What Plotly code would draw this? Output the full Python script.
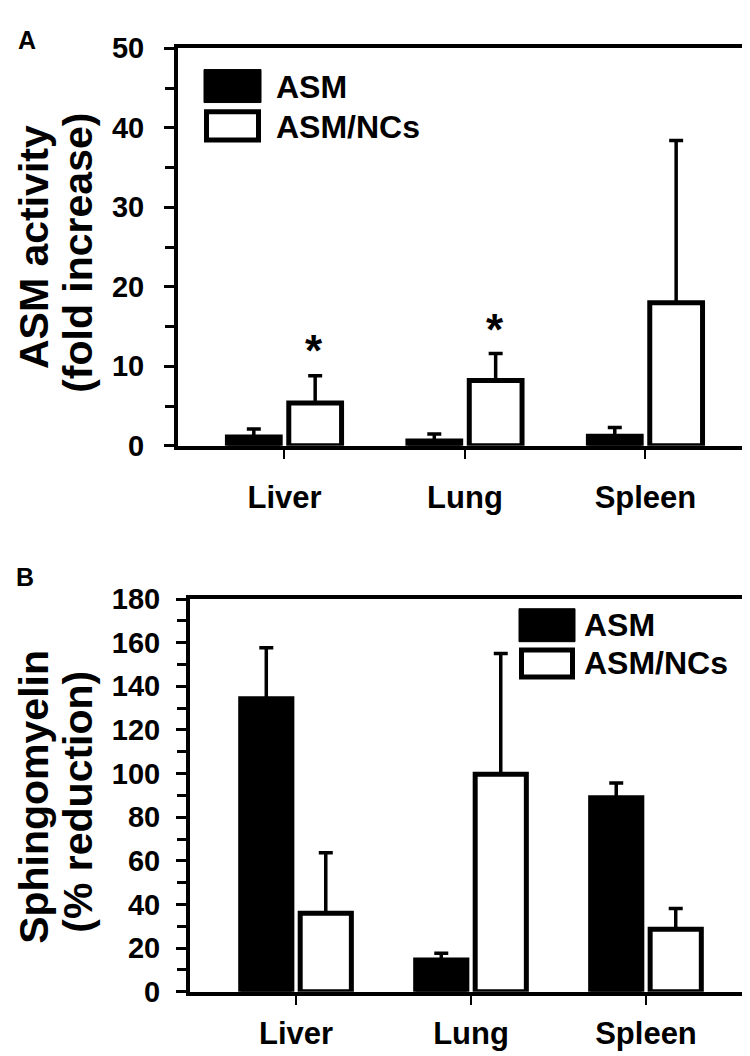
import plotly.graph_objects as go

# ---------------- data ----------------
categories = ["Liver", "Lung", "Spleen"]

# Panel A: ASM activity (fold increase)
a_asm_mean = [1.1, 0.6, 1.2]
a_asm_err = [1.0, 0.9, 1.1]
a_nc_mean = [5.4, 8.2, 18.0]
a_nc_err = [3.4, 3.4, 20.4]
a_star_cats = ["Liver", "Lung"]
a_star_y = [12.0, 14.6]

# Panel B: Sphingomyelin (% reduction)
b_asm_mean = [134.3, 14.5, 88.9]
b_asm_err = [23.4, 3.2, 6.8]
b_nc_mean = [36.0, 99.7, 28.7]
b_nc_err = [27.7, 55.3, 9.5]

a_yticks = [0, 10, 20, 30, 40, 50]
b_yticks = [0, 20, 40, 60, 80, 100, 120, 140, 160, 180]

series_names = ["ASM", "ASM/NCs"]

# ---------------- helpers ----------------
W, H = 750, 1056
FONT = "Liberation Sans, Arial, sans-serif"


def px(x):
    return x / W


def py(y):
    return 1 - y / H


fig = go.Figure()


def add_bars(xa, ya, asm_m, asm_e, nc_m, nc_e):
    fig.add_trace(go.Bar(
        x=categories, y=asm_m, name=series_names[0], xaxis=xa, yaxis=ya,
        marker=dict(color="black", line=dict(color="black", width=5)),
        error_y=dict(type="data", array=asm_e, arrayminus=[0] * len(asm_e),
                     symmetric=False, color="black", thickness=3.5, width=7),
        showlegend=False, offsetgroup="1"))
    fig.add_trace(go.Bar(
        x=categories, y=nc_m, name=series_names[1], xaxis=xa, yaxis=ya,
        marker=dict(color="white", line=dict(color="black", width=5)),
        error_y=dict(type="data", array=nc_e, arrayminus=[0] * len(nc_e),
                     symmetric=False, color="black", thickness=3.5, width=7),
        showlegend=False, offsetgroup="2"))


add_bars("x", "y", a_asm_mean, a_asm_err, a_nc_mean, a_nc_err)
add_bars("x2", "y2", b_asm_mean, b_asm_err, b_nc_mean, b_nc_err)

common_x = dict(
    type="category", categoryorder="array", categoryarray=categories,
    showline=True, linewidth=4, linecolor="black", mirror=True,
    ticks="outside", ticklen=9, tickwidth=2, tickcolor="black",
    tickfont=dict(family=FONT, size=31, color="black", weight="bold"),
    showgrid=False, zeroline=False,
)
common_y = dict(
    showline=True, linewidth=4, linecolor="black", mirror=True,
    ticks="outside", ticklen=10, tickwidth=3, tickcolor="black",
    tickfont=dict(family=FONT, size=29, color="black", weight="bold"),
    showgrid=False, zeroline=False,
)

fig.update_layout(
    width=W, height=H,
    margin=dict(l=0, r=0, t=0, b=0),
    paper_bgcolor="white", plot_bgcolor="white",
    barmode="group", bargap=0.32, bargroupgap=0.14,
    xaxis=dict(common_x, domain=[px(170), px(738)], range=[-0.59, 2.557],
               anchor="y", ticklabelstandoff=12),
    yaxis=dict(common_y, domain=[py(435), py(25)], range=[0, 50],
               tickvals=a_yticks, anchor="x",
               minor=dict(dtick=5, ticks="outside", ticklen=9, tickwidth=3,
                          tickcolor="black", showgrid=False),
               ticklabelstandoff=14),
    xaxis2=dict(common_x, domain=[px(182), px(740)], range=[-0.606, 2.583],
                anchor="y2", ticklabelstandoff=2),
    yaxis2=dict(common_y, domain=[py(998), py(593)], range=[0, 180],
                tickvals=b_yticks, anchor="x2",
                minor=dict(dtick=10, ticks="outside", ticklen=9, tickwidth=3,
                           tickcolor="black", showgrid=False),
                ticklabelstandoff=10),
)

ann = []
# panel letters
ann.append(dict(text="A", x=px(19), y=py(16), xref="paper", yref="paper",
                showarrow=False, xanchor="center", yanchor="middle",
                font=dict(family=FONT, size=25, color="black", weight="bold")))
ann.append(dict(text="B", x=px(17), y=py(570), xref="paper", yref="paper",
                showarrow=False, xanchor="center", yanchor="middle",
                font=dict(family=FONT, size=25, color="black", weight="bold")))

# y-axis titles (two rotated lines each)
title_font = dict(family=FONT, size=41, color="black", weight="bold")
for txt, cx, cy in [("ASM activity", 26, 230), ("(fold increase)", 70, 236),
                    ("Sphingomyelin", 26, 797), ("(% reduction)", 70, 802)]:
    ann.append(dict(text=txt, x=px(cx), y=py(cy), xref="paper", yref="paper",
                    showarrow=False, textangle=-90, xanchor="center",
                    yanchor="middle", font=title_font))

# significance stars
for c, yv in zip(a_star_cats, a_star_y):
    ann.append(dict(text="*", x=c, y=yv, xref="x", yref="y", showarrow=False,
                    xshift=30, xanchor="center", yanchor="middle",
                    font=dict(family=FONT, size=44, color="black", weight="bold")))

# legends (manual, large swatches)
leg_font = dict(family=FONT, size=32, color="black", weight="bold")
shapes = []


def legend(x0, x1, yb0, yb1, yo0, yo1, tx, ty1, ty2):
    shapes.append(dict(type="rect", xref="paper", yref="paper",
                       x0=px(x0), x1=px(x1), y0=py(yb1), y1=py(yb0),
                       fillcolor="black", line=dict(color="black", width=1)))
    shapes.append(dict(type="rect", xref="paper", yref="paper",
                       x0=px(x0 + 2.5), x1=px(x1 - 2.5), y0=py(yo1 - 2.5), y1=py(yo0 + 2.5),
                       fillcolor="white", line=dict(color="black", width=5)))
    ann.append(dict(text=series_names[0], x=px(tx), y=py(ty1), xref="paper", yref="paper",
                    showarrow=False, xanchor="left", yanchor="middle", font=leg_font))
    ann.append(dict(text=series_names[1], x=px(tx), y=py(ty2), xref="paper", yref="paper",
                    showarrow=False, xanchor="left", yanchor="middle", font=leg_font))


legend(196, 253, 47, 81, 88, 122, 266, 65, 106)
legend(511, 567, 603, 637, 643, 676, 574, 620, 659)

fig.update_layout(annotations=ann, shapes=shapes)
fig.write_html("out.html")
